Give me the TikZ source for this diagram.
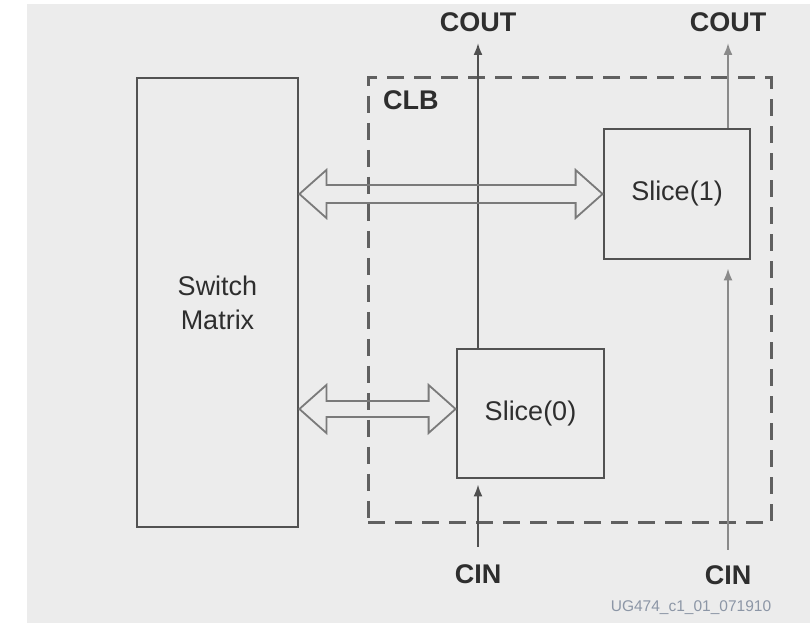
\documentclass[tikz,border=0pt]{standalone}
\usepackage{fontspec}
\setmainfont{Liberation Sans}
\usetikzlibrary{calc,arrows.meta}
\definecolor{bg}{HTML}{ECECEC}
\definecolor{boxc}{HTML}{525252}
\definecolor{dashc}{HTML}{606060}
\definecolor{sigc}{HTML}{505050}
\definecolor{sigl}{HTML}{8A8A8A}
\definecolor{busc}{HTML}{7A7A7A}
\definecolor{txt}{HTML}{2E2E2E}
\definecolor{idc}{HTML}{8C96A6}
\newcommand\mybus[4]{%
  \draw[bus] #1 -- ++(27,#4) -- ++(0,-#4+#3) -- ($#2+(-27,#3)$) -- ++(0,#4-#3) -- #2
    -- ++(-27,-#4) -- ++(0,#4-#3) -- ($#1+(27,-#3)$) -- ++(0,-#4+#3) -- cycle;}
\begin{document}
\begin{tikzpicture}[x=1pt,y=1pt,
  blk/.style={draw=boxc, line width=2.8pt, inner sep=0pt, text=txt,
    align=center, font=\fontsize{27}{34}\selectfont},
  clbbox/.style={draw=dashc, line width=3pt, dash pattern=on 17pt off 10pt, inner sep=0pt},
  lbl/.style={text=txt, font=\bfseries\fontsize{27}{32}\selectfont, inner sep=0pt},
  sig/.style={draw=sigc, line width=2pt, -{Latex[length=12pt,width=9pt]}},
  siglight/.style={sig, draw=sigl},
  bus/.style={draw=busc, line width=1.8pt, line join=miter},
  idlbl/.style={text=idc, font=\fontsize{15.5}{18}\selectfont, inner sep=0pt},
]
\useasboundingbox (0,0) rectangle (810,623);
\fill[bg] (27,0) rectangle (810,619);

% CLB dashed region
\node[clbbox, minimum width=403pt, minimum height=445pt] (clb) at (569.5,322.5) {};
\node[lbl, anchor=west] (clbl) at (383,523) {CLB};

% blocks
\node[blk, minimum width=161pt, minimum height=449pt] (sm) at (217.5,320.5) {Switch\\Matrix};
\node[blk, minimum width=146pt, minimum height=130pt] (s1) at (677,429) {Slice(1)};
\node[blk, minimum width=147pt, minimum height=129pt] (s0) at (530.5,209.5) {Slice(0)};

% labels
\node[lbl] (cout0) at (478,601) {COUT};
\node[lbl] (cout1) at (728,601) {COUT};
\node[lbl] (cin0) at (478,49) {CIN};
\node[lbl] (cin1) at (728,48) {CIN};
\node[idlbl] (id) at (691,15) {UG474\_c1\_01\_071910};

% carry signals
\coordinate (c0top) at (478,580);
\coordinate (c1top) at (728,580);
\coordinate (ci0) at (478,76);
\coordinate (ci1) at (728,73);
\draw[sig] (s0.north -| c0top) -- (c0top);
\draw[siglight] (s1.north -| c1top) -- (c1top);
\draw[sig, shorten >=5pt] (ci0) -- (ci0 |- s0.south);
\draw[siglight, shorten >=8pt] (ci1) -- (ci1 |- s1.south);

% buses
\coordinate (b1l) at (sm.east |- s1.center);
\coordinate (b1r) at (s1.west);
\coordinate (b0r) at ($(s0.west)+(0,4.5)$);
\coordinate (b0l) at (sm.east |- b0r);
\mybus{(b1l)}{(b1r)}{9}{24}
\mybus{(b0l)}{(b0r)}{8}{24}
\end{tikzpicture}
\end{document}
